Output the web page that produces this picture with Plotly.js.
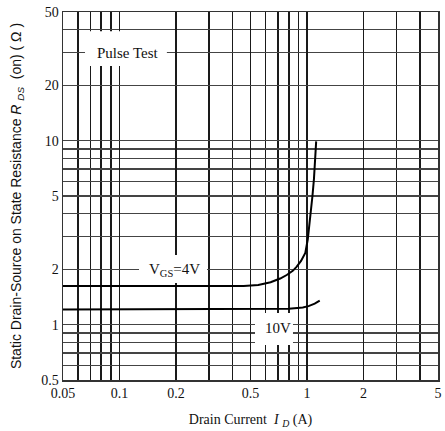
<!DOCTYPE html>
<html><head><meta charset="utf-8">
<script src="https://cdn.plot.ly/plotly-3.0.1.min.js"></script>
<style>html,body{margin:0;padding:0;background:#fff}#chart{width:445px;height:431px}</style>
</head><body><div id="chart"></div>
<script>
// Drain current I_D (A) and on-state resistance R_DS(on) (ohm)
const current4V = [0.05, 0.1, 0.2, 0.3, 0.4, 0.46, 0.55, 0.64, 0.72, 0.78, 0.84, 0.88, 0.93, 0.98, 1.01, 1.04, 1.07, 1.09, 1.10, 1.11, 1.12];
const rds4V     = [1.62, 1.62, 1.62, 1.62, 1.62, 1.62, 1.64, 1.70, 1.78, 1.86, 1.96, 2.06, 2.22, 2.45, 2.9, 3.7, 5.0, 6.2, 7.5, 8.7, 9.9];
const current10V = [0.05, 0.2, 0.5, 0.8, 0.95, 1.02, 1.1, 1.17];
const rds10V     = [1.21, 1.21, 1.21, 1.22, 1.24, 1.26, 1.30, 1.35];

const xTickVals = [0.05, 0.1, 0.2, 0.5, 1, 2, 5];
const xTickText = ['0.05', '0.1', '0.2', '0.5', '1', '2', '5'];
const xMinorVals = [0.06, 0.07, 0.08, 0.09, 0.3, 0.4, 0.6, 0.7, 0.8, 0.9, 3, 4];
const yTickVals = [0.5, 1, 2, 5, 10, 20, 50];
const yTickText = ['0.5', '1', '2', '5', '10', '20', '50'];
const yMinorVals = [0.6, 0.7, 0.8, 0.9, 3, 4, 6, 7, 8, 9, 30, 40];

const serif = 'Liberation Serif, Times New Roman, serif';

const traces = [
  {x: current4V, y: rds4V, mode: 'lines', line: {color: '#000', width: 2}, hoverinfo: 'skip'},
  {x: current10V, y: rds10V, mode: 'lines', line: {color: '#000', width: 2}, hoverinfo: 'skip'}
];

const whiteBox = (x0, x1, y0, y1) => ({type: 'rect', xref: 'paper', yref: 'paper', x0, x1, y0, y1,
  fillcolor: '#fff', line: {width: 0}, layer: 'above'});

const layout = {
  width: 445, height: 431,
  margin: {l: 63, r: 7, t: 12, b: 51},
  paper_bgcolor: '#fff', plot_bgcolor: '#fff',
  showlegend: false,
  font: {family: serif, size: 14, color: '#111'},
  xaxis: {
    type: 'log', range: [Math.log10(0.05), Math.log10(5)],
    tickmode: 'array', tickvals: xTickVals, ticktext: xTickText,
    ticks: '', showgrid: true, gridcolor: '#1a1a1a', gridwidth: 1.6,
    minor: {tickmode: 'array', tickvals: xMinorVals, showgrid: true, gridcolor: '#1a1a1a', gridwidth: 1.6, ticks: ''},
    showline: true, mirror: true, linecolor: '#333', linewidth: 1.5,
    zeroline: false,
    tickfont: {family: serif, size: 14, color: '#111'},
    title: {text: 'Drain Current  <i>I</i> <i><sub>D</sub></i> (A)', font: {family: serif, size: 14, color: '#111'}, standoff: 14}
  },
  yaxis: {
    type: 'log', range: [Math.log10(0.5), Math.log10(50)],
    tickmode: 'array', tickvals: yTickVals, ticktext: yTickText,
    ticks: '', showgrid: true, gridcolor: '#444', gridwidth: 1.3,
    minor: {tickmode: 'array', tickvals: yMinorVals, showgrid: true, gridcolor: '#444', gridwidth: 1.3, ticks: ''},
    showline: true, mirror: true, linecolor: '#333', linewidth: 1.5,
    zeroline: false,
    tickfont: {family: serif, size: 14, color: '#111'},
    title: {text: 'Static Drain-Source on State Resistance <i>R</i> <i><sub>DS</sub></i>  (on) ( Ω )',
      font: {family: 'Liberation Sans, Arial, sans-serif', size: 14, color: '#111'}, standoff: 16}
  },
  shapes: [
    whiteBox(0.0587, 0.277, 0.853, 0.948),
    whiteBox(0.2027, 0.384, 0.2636, 0.3397),
    whiteBox(0.512, 0.6133, 0.0951, 0.182)
  ],
  annotations: [
    {xref: 'paper', yref: 'paper', x: 0.172, y: 0.8886, text: 'Pulse Test', showarrow: false,
     xanchor: 'center', yanchor: 'middle', font: {family: serif, size: 15, color: '#111'}},
    {xref: 'paper', yref: 'paper', x: 0.296, y: 0.30, text: 'V<sub>GS</sub>=4V', showarrow: false,
     xanchor: 'center', yanchor: 'middle', font: {family: serif, size: 15, color: '#111'}},
    {xref: 'paper', yref: 'paper', x: 0.5733, y: 0.1413, text: '10V', showarrow: false,
     xanchor: 'center', yanchor: 'middle', font: {family: serif, size: 15, color: '#111'}}
  ]
};

Plotly.newPlot('chart', traces, layout, {staticPlot: true, displayModeBar: false});
</script>
</body></html>
